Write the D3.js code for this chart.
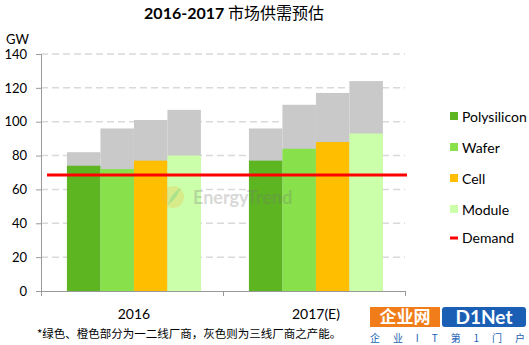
<!DOCTYPE html>
<html>
<head>
<meta charset="utf-8">
<script src="https://cdn.jsdelivr.net/npm/d3@7"></script>
<style>
  body { margin: 0; background: #fff; }
  text { font-family: Lato, "Noto Sans CJK SC", sans-serif; }
</style>
</head>
<body>
<div id="chart"></div>
<script>
// data
var years = ["2016", "2017(E)"];
var series = ["Polysilicon", "Wafer", "Cell", "Module"];
var tier1 = [[74, 72, 77, 80], [77, 84, 88, 93]];      // green / orange part
var total = [[82, 96, 101, 107], [96, 110, 117, 124]]; // incl. grey part
var demand = 68.5;
var yTicks = [0, 20, 40, 60, 80, 100, 120, 140];
var colors = ["#5cb521", "#88e14a", "#ffbe00", "#ccffaa"];

var W = 529, H = 345;
var margin = {top: 54, left: 41, right: 124, bottom: 54};

var svg = d3.select("#chart").append("svg")
    .attr("width", W)
    .attr("height", H);

var x0 = d3.scaleBand()
    .domain(years)
    .range([margin.left, W - margin.right])
    .paddingInner(0.264)
    .paddingOuter(0.132)
    .align(0.54);

var x1 = d3.scaleBand()
    .domain(series)
    .range([0, x0.bandwidth()]);

var y = d3.scaleLinear()
    .domain([0, 140])
    .range([H - margin.bottom, margin.top]);

// grid lines
svg.append("g")
  .selectAll("line")
  .data(yTicks.slice(1))
  .enter().append("line")
    .attr("x1", margin.left)
    .attr("x2", W - margin.right)
    .attr("y1", function(d) { return y(d); })
    .attr("y2", function(d) { return y(d); })
    .attr("stroke", "#d9d9d9")
    .attr("stroke-width", 1.5)
    .attr("stroke-dasharray", "7,4");

// bars
var groups = svg.selectAll(".year")
  .data(years)
  .enter().append("g")
    .attr("class", "year")
    .attr("transform", function(d) { return "translate(" + x0(d) + ",0)"; });

groups.selectAll(".grey")
  .data(function(d, i) { return series.map(function(s, j) { return {s: s, v: total[i][j]}; }); })
  .enter().append("rect")
    .attr("class", "grey")
    .attr("x", function(d) { return x1(d.s); })
    .attr("width", x1.bandwidth())
    .attr("y", function(d) { return y(d.v); })
    .attr("height", function(d) { return y(0) - y(d.v); })
    .attr("fill", "#c9c9c9");

groups.selectAll(".main")
  .data(function(d, i) { return series.map(function(s, j) { return {s: s, v: tier1[i][j], c: colors[j]}; }); })
  .enter().append("rect")
    .attr("class", "main")
    .attr("x", function(d) { return x1(d.s); })
    .attr("width", x1.bandwidth())
    .attr("y", function(d) { return y(d.v); })
    .attr("height", function(d) { return y(0) - y(d.v); })
    .attr("fill", function(d) { return d.c; });

// y axis
var yAxis = svg.append("g")
    .attr("transform", "translate(" + margin.left + ",0)")
    .call(d3.axisLeft(y).tickValues(yTicks).tickSize(5).tickPadding(9));
yAxis.select(".domain").attr("stroke", "#999");
yAxis.selectAll(".tick line").attr("stroke", "#999");
yAxis.selectAll("text").style("font-size", "13px").attr("fill", "#000")
    .style("font-family", "Lato");

// x axis: boundary ticks + category labels
var xb = d3.scaleLinear().domain([0, years.length]).range(x0.range());
var xAxis = svg.append("g")
    .attr("transform", "translate(0," + y(0) + ")")
    .call(d3.axisBottom(xb).ticks(years.length).tickFormat("").tickSize(5).tickSizeOuter(5));
xAxis.selectAll("path, line").attr("stroke", "#999");

var xLab = svg.append("g")
    .attr("transform", "translate(0," + y(0) + ")")
    .call(d3.axisBottom(x0).tickSize(0).tickPadding(18));
xLab.select(".domain").remove();
xLab.selectAll("text").style("font-size", "14px").attr("fill", "#000")
    .style("font-family", "Lato");

// demand line
svg.append("line")
    .attr("x1", x0.range()[0] + 6)
    .attr("x2", x0.range()[1] + 2)
    .attr("y1", y(demand))
    .attr("y2", y(demand))
    .attr("stroke", "#ff0000")
    .attr("stroke-width", 3);

// watermark (over the bars)
var wm = svg.append("g").attr("opacity", 0.28);
wm.append("circle").attr("cx", 173).attr("cy", 197).attr("r", 11)
  .attr("fill", "#f6b93a");
wm.append("path").attr("d", "M168,205 C170,196 176,190 181,188 C178,194 175,200 168,205 Z")
  .attr("fill", "#5a9e3a");
wm.append("text").attr("x", 193).attr("y", 204)
  .style("font-size", "18px").style("font-weight", "bold")
  .attr("fill", "#777").text("EnergyTrend");

// legend
var legend = svg.append("g").attr("transform", "translate(450,0)");
series.forEach(function(s, i) {
  var ly = 117 + i * 31;
  legend.append("rect").attr("x", 0).attr("y", ly - 5).attr("width", 8).attr("height", 8)
    .attr("fill", colors[i]);
  legend.append("text").attr("x", 12).attr("y", ly + 5)
    .style("font-size", "14px").text(s);
});
legend.append("line").attr("x1", 0).attr("x2", 8).attr("y1", 238).attr("y2", 238)
  .attr("stroke", "#ff0000").attr("stroke-width", 3);
legend.append("text").attr("x", 12).attr("y", 243).style("font-size", "14px").text("Demand");

// title
var title = svg.append("text")
    .attr("x", 234)
    .attr("y", 19)
    .attr("text-anchor", "middle")
    .style("font-size", "16px");
title.append("tspan").style("font-weight", "bold").text("2016-2017");
title.append("tspan").style("font-family", "'Noto Sans CJK SC'").text(" 市场供需预估");

// unit label
svg.append("text").attr("x", 6).attr("y", 44).style("font-size", "13px").text("GW");

// footnote
svg.append("text").attr("x", 37).attr("y", 338)
  .style("font-size", "11.5px")
  .style("font-family", "'Noto Sans CJK SC'")
  .text("*绿色、橙色部分为一二线厂商，灰色则为三线厂商之产能。");

// site logo
var logo = svg.append("g");
logo.append("rect").attr("x", 370).attr("y", 307).attr("width", 70).attr("height", 20).attr("fill", "#f07d1a");
logo.append("text").attr("x", 405).attr("y", 323).attr("text-anchor", "middle")
  .style("font-size", "17px").style("font-weight", "bold").attr("fill", "#fff")
  .style("font-family", "'Noto Sans CJK SC'").text("企业网");
logo.append("rect").attr("x", 442).attr("y", 307).attr("width", 84).attr("height", 20).attr("rx", 3).attr("fill", "#1a5fb4");
logo.append("text").attr("x", 484).attr("y", 324).attr("text-anchor", "middle")
  .style("font-size", "19px").style("font-weight", "bold").attr("fill", "#fff").text("D1Net");
logo.append("text").attr("x", 370).attr("y", 342)
  .style("font-size", "10px").attr("fill", "#1a5fb4")
  .style("font-family", "'Noto Sans CJK SC'")
  .attr("textLength", 155)
  .text("企 业 I T 第 1 门 户");
</script>
</body>
</html>
